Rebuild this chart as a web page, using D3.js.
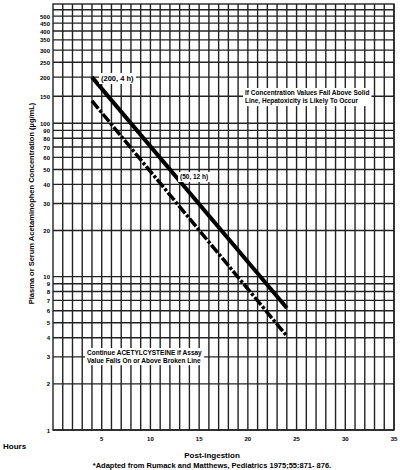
<!DOCTYPE html>
<html><head><meta charset="UTF-8">
<script src="https://d3js.org/d3.v7.min.js"></script>
<style>body{margin:0;background:#fff}text,tspan{font-family:"Liberation Sans",Arial,sans-serif;fill:#000}</style>
</head><body>
<svg id="c" width="400" height="470"></svg>
<script>
const yTicks = [1,2,3,4,5,6,7,8,9,10,20,30,40,50,60,70,80,90,100,150,200,250,300,350,400,450,500];
const yGrid = yTicks.concat([550]);
const hours = d3.range(1, 36);
const xLabels = [5,10,15,20,25,30,35];
const solidLine = [{h:4,c:200},{h:24,c:6.25}];
const dashedLine = [{h:4,c:140},{h:24,c:4.1}];

const svg = d3.select("#c");
const x = d3.scaleLinear().domain([0,35]).range([53,394]);
const y = d3.scaleLog().domain([1,600]).range([430,4]);

const g = svg.append("g");
g.selectAll(".vg").data(hours).enter().append("line")
  .attr("x1", d=>x(d)).attr("x2", d=>x(d)).attr("y1", y(600)).attr("y2", y(1))
  .attr("stroke","#222").attr("stroke-width",1.4);
g.selectAll(".hg").data(yGrid).enter().append("line")
  .attr("x1", x(0)).attr("x2", x(35)).attr("y1", d=>y(d)).attr("y2", d=>y(d))
  .attr("stroke","#222").attr("stroke-width",1.4);
g.append("rect").attr("x",x(0)).attr("y",y(600)).attr("width",x(35)-x(0)).attr("height",y(1)-y(600))
  .attr("fill","none").attr("stroke","#222").attr("stroke-width",1.4);

g.selectAll(".yl").data(yTicks).enter().append("text")
  .attr("x", x(0)-3).attr("y", d=>y(d)+2.5).attr("text-anchor","end")
  .attr("font-size",6).attr("font-weight","bold").text(d=>d);
g.selectAll(".xl").data(xLabels).enter().append("text")
  .attr("x", d=>x(d)).attr("y", y(1)+11).attr("text-anchor","middle")
  .attr("font-size",6).attr("font-weight","bold").text(d=>d);

const line = d3.line().x(d=>x(d.h)).y(d=>y(d.c));
g.append("path").datum(solidLine).attr("d",line).attr("stroke","#000").attr("stroke-width",4).attr("fill","none");
g.append("path").datum(dashedLine).attr("d",line).attr("stroke","#000").attr("stroke-width",3.5)
  .attr("stroke-dasharray","10,2,3,2").attr("fill","none");

function label(tx, ty, lines, size, bg) {
  const t = g.append("text").attr("x",tx).attr("y",ty).attr("font-size",size).attr("font-weight","bold");
  lines.forEach((s,i)=>t.append("tspan").attr("x",tx).attr("dy", i?size*1.25:0).text(s));
  if (bg) { const b = t.node().getBBox();
    g.insert("rect", () => t.node()).attr("x",b.x-2).attr("y",b.y-1).attr("width",b.width+4).attr("height",b.height+2).attr("fill","#fff"); }
}
label(101, 81, ["(200, 4 h)"], 7.5, true);
label(180, 179, ["(50, 12 h)"], 6.5, true);
label(245, 95, ["If Concentration Values Fall Above Solid","Line, Hepatoxicity is Likely To Occur"], 6.5, true);
label(87, 355, ["Continue ACETYLCYSTEINE if Assay","Value Falls On or Above Broken Line"], 6.5, true);

svg.append("text").attr("transform",`translate(34,${y(30)}) rotate(-90)`).attr("text-anchor","middle")
  .attr("font-size",7.5).attr("font-weight","bold").text("Plasma or Serum Acetaminophen Concentration (µg/mL)");
svg.append("text").attr("x",3).attr("y",449).attr("font-size",8).attr("font-weight","bold").text("Hours");
svg.append("text").attr("x",212).attr("y",458).attr("text-anchor","middle").attr("font-size",8).attr("font-weight","bold").text("Post-ingestion");
svg.append("text").attr("x",212).attr("y",468).attr("text-anchor","middle").attr("font-size",7.5).attr("font-weight","bold").text("*Adapted from Rumack and Matthews, Pediatrics 1975;55:871- 876.");
</script></body></html>
